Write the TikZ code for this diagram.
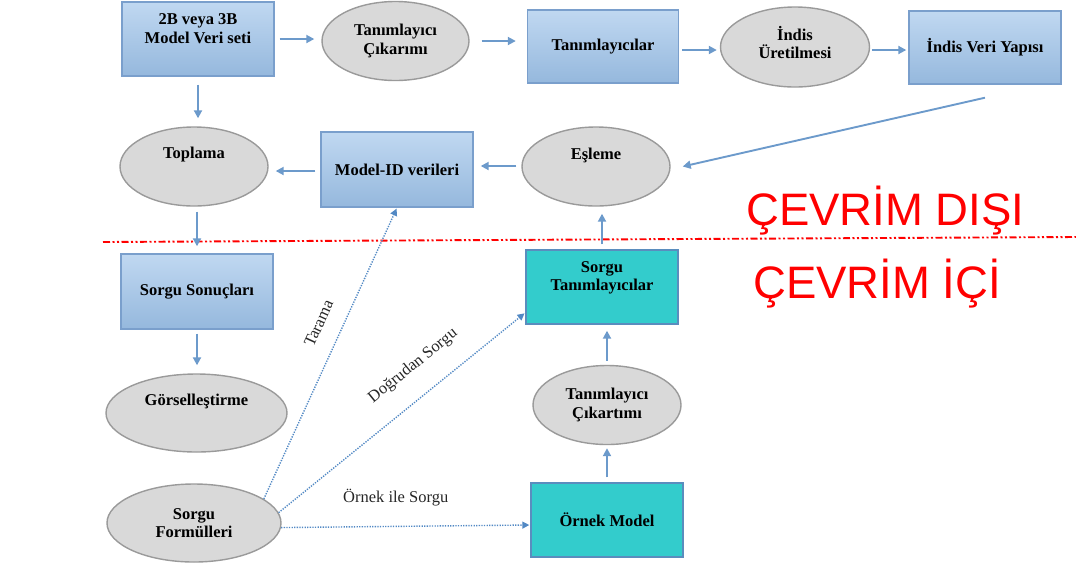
\documentclass[tikz,border=0pt]{standalone}
\usepackage{fontspec}
\setmainfont{Liberation Serif}
\newfontfamily\arialfont{Liberation Sans}
\usepackage{tikz}
\usetikzlibrary{shapes.geometric,arrows.meta}

\definecolor{boxtop}{HTML}{C0D8F1}
\definecolor{boxbot}{HTML}{95B8DD}
\definecolor{boxline}{HTML}{7A9FCC}
\definecolor{ellfill}{HTML}{D9D9D9}
\definecolor{ellline}{HTML}{9A9A9A}
\definecolor{tealfill}{HTML}{33CCCC}
\definecolor{tealline}{HTML}{5A8DBE}
\definecolor{arrcol}{HTML}{6C9ACB}
\definecolor{dotcol}{HTML}{5289C4}

\begin{document}
\begin{tikzpicture}[x=1pt, y=-1pt,
  every node/.style={font=\fontsize{16.5}{18.5}\selectfont\bfseries, align=center, inner sep=0pt},
  blk/.style={draw=boxline, line width=1.4pt, top color=boxtop, bottom color=boxbot,
    minimum width=152pt, minimum height=74pt},
  tblk/.style={draw=tealline, line width=1.4pt, fill=tealfill,
    minimum width=152pt, minimum height=74pt},
  ell/.style={ellipse, draw=ellline, line width=1.4pt, fill=ellfill,
    minimum width=148pt, minimum height=79pt},
  arr/.style={-{Triangle[length=8pt,width=8pt]}, arrcol, line width=1.9pt,
    shorten <=5pt, shorten >=7pt},
  darr/.style={-{Triangle[length=7pt,width=7pt]}, dotcol, line width=1.4pt,
    dash pattern=on 1.3pt off 1.3pt, shorten >=1pt},
  lbl/.style={font=\fontsize{16.5}{18.5}\selectfont, text=black!85}]

  \useasboundingbox (0,0) rectangle (1076,566);

  % Top row: offline indexing chain
  \node[blk] (mv) at (198,39) {};
  \node (mv-t) at (198,28.5) {2B veya 3B\\Model Veri seti};
  \node[ell, minimum width=147pt] (tc) at (395.5,41) {Tanımlayıcı\\Çıkarımı};
  \node[blk, minimum width=151pt, minimum height=73pt] (tan) at (603,46.5) {Tanımlayıcılar};
  \node[ell, minimum width=149pt, minimum height=80pt] (iu) at (795,47) {};
  \node (iu-t) at (795,42.5) {İndis\\Üretilmesi};
  \node[blk, minimum height=73pt] (ivy) at (985,47.5) {İndis Veri Yapısı};

  % Second row: matching and aggregation
  \node[ell] (top) at (194,166.5) {};
  \node (top-t) at (194,155) {Toplama};
  \node[blk, minimum height=75pt] (mid) at (397,169.5) {Model-ID verileri};
  \node[ell] (es) at (596,166.5) {};
  \node (es-t) at (596,155) {Eşleme};

  % Left column: results and query input
  \node[blk, minimum height=75pt] (ss) at (197,291.5) {Sorgu Sonuçları};
  \node[ell, minimum width=181pt, minimum height=78pt] (gor) at (196.5,413) {};
  \node (gor-t) at (196.5,401) {Görselleştirme};
  \node[ell, minimum width=174pt, minimum height=78pt] (sf) at (194,523) {Sorgu\\Formülleri};

  % Right column: query descriptors
  \node[tblk] (st) at (602,287) {};
  \node (st-t) at (602,278) {Sorgu\\Tanımlayıcılar};
  \node[ell] (tc2) at (607,405) {Tanımlayıcı\\Çıkartımı};
  \node[tblk] (om) at (607,520) {Örnek Model};

  % Offline / online split
  \draw[red, line width=1.9pt,
    dash pattern=on 7pt off 2.5pt on 2pt off 2.5pt on 2pt off 2.5pt]
    (103,242) -- (1076,237);
  \node[font=\arialfont\fontsize{45.5}{46}\selectfont, text=red, anchor=base west] (offl) at (746,225) {ÇEVRİM DIŞI};
  \node[font=\arialfont\fontsize{45.5}{46}\selectfont, text=red, anchor=base west] (onl) at (753,298) {ÇEVRİM İÇİ};

  % Solid flow arrows
  \draw[arr] (mv.east) -- (mv.east -| tc.west);
  \draw[arr, shorten <=12pt, shorten >=11pt] (tc.east) -- (tc.east -| tan.west);
  \draw[arr, shorten <=3pt, shorten >=3pt] ([yshift=-3.5pt]tan.east) -- ([yshift=-3.5pt]tan.east -| iu.west);
  \draw[arr, shorten <=2pt, shorten >=2pt] ([yshift=-3pt]iu.east) -- ([yshift=-3pt]iu.east -| ivy.west);
  \draw[arr, shorten <=8pt, shorten >=8pt] (mv.south) -- (mv.south |- top.north);
  \coordinate (ivy-out) at ([yshift=-13pt]ivy.south);
  \coordinate (es-in) at ([xshift=12pt]es.east);
  \draw[arr, shorten <=0pt, shorten >=0pt] (ivy-out) -- (es-in);
  \draw[arr] ([yshift=0.5pt]es.west) -- ([yshift=0.5pt]es.west -| mid.east);
  \draw[arr] ([yshift=-1.5pt]mid.west) -- ([yshift=-1.5pt]mid.west -| top.east);
  \draw[arr] (ss.north |- top.south) -- (ss.north);
  \draw[arr, shorten <=4pt, shorten >=8pt] (ss.south) -- (ss.south |- gor.north);
  \draw[arr] (st.north) -- (st.north |- es.south);
  \draw[arr, shorten <=4pt, shorten >=6pt] (tc2.north) -- (tc2.north |- st.south);
  \draw[arr, shorten <=5pt, shorten >=3pt] (om.north) -- (om.north |- tc2.south);

  % Dotted query paths
  \coordinate (st-in) at ([yshift=12pt]st.south west);
  \coordinate (om-in) at ([yshift=-5pt]om.west);
  \draw[darr] (sf.19) -- (mid.south)
    node[lbl, sloped, above=17pt, pos=.57] (tar-l) {Tarama};
  \draw[darr] (sf.7) -- (st-in)
    node[lbl, sloped, above=21pt, pos=.62] (dog-l) {Doğrudan Sorgu};
  \draw[darr] (sf.-3) -- (om-in)
    node[lbl, above=20pt, pos=.46] (orn-l) {Örnek ile Sorgu};
\end{tikzpicture}
\end{document}
